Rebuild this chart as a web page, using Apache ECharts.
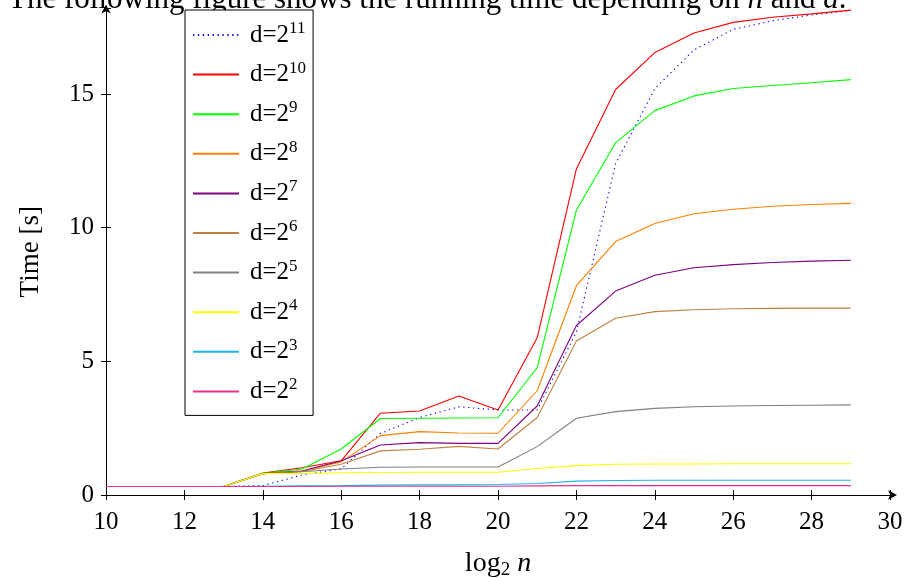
<!DOCTYPE html>
<html>
<head>
<meta charset="utf-8">
<script src="https://cdn.jsdelivr.net/npm/echarts@6/dist/echarts.min.js"></script>
<style>
html,body{margin:0;padding:0;background:#fff;}
#chart{width:910px;height:578px;}
</style>
</head>
<body>
<div id="chart"></div>
<script>
// ---- data ----
const logN = [10,11,12,13,14,15,16,17,18,19,20,21,22,23,24,25,26,27,28,29];
const exps = ['11','10','9','8','7','6','5','4','3','2'];
const d11 = [0.32,0.32,0.32,0.32,0.35,0.75,0.98,2.30,2.90,3.30,3.18,3.18,6.10,12.40,15.20,16.65,17.42,17.74,17.96,18.12];
const d10 = [0.32,0.32,0.32,0.32,0.82,1.02,1.28,3.06,3.14,3.70,3.18,5.88,12.20,15.17,16.55,17.28,17.68,17.87,18.00,18.14];
const d9  = [0.32,0.32,0.32,0.32,0.81,0.97,1.72,2.86,2.87,2.88,2.89,4.76,10.66,13.18,14.38,14.93,15.21,15.32,15.42,15.54];
const d8  = [0.32,0.32,0.32,0.32,0.80,0.90,1.24,2.22,2.37,2.32,2.31,3.90,7.83,9.48,10.16,10.52,10.69,10.80,10.87,10.91];
const d7  = [0.32,0.32,0.32,0.32,0.80,0.90,1.28,1.87,1.96,1.93,1.93,3.33,6.34,7.63,8.22,8.50,8.62,8.70,8.75,8.78];
const d6  = [0.32,0.32,0.32,0.32,0.80,0.88,1.15,1.65,1.71,1.82,1.72,2.90,5.76,6.61,6.86,6.93,6.97,6.98,6.99,6.99];
const d5  = [0.32,0.32,0.32,0.32,0.80,0.87,0.97,1.04,1.05,1.05,1.05,1.81,2.87,3.12,3.24,3.30,3.33,3.35,3.36,3.37];
const d4  = [0.32,0.32,0.32,0.32,0.80,0.80,0.83,0.84,0.85,0.85,0.85,0.99,1.10,1.15,1.16,1.16,1.17,1.17,1.17,1.17];
const d3  = [0.32,0.32,0.32,0.32,0.33,0.34,0.35,0.37,0.38,0.38,0.39,0.43,0.52,0.54,0.55,0.55,0.55,0.55,0.55,0.55];
const d2  = [0.32,0.32,0.32,0.32,0.32,0.32,0.33,0.33,0.33,0.33,0.33,0.34,0.35,0.35,0.35,0.35,0.35,0.35,0.35,0.35];
const xTicks = [10,12,14,16,18,20,22,24,26,28,30];
const yTicks = [0,5,10,15];

const seriesData = [d11,d10,d9,d8,d7,d6,d5,d4,d3,d2];
const colors = ['#0000FF','#FF0000','#00FF00','#FF8000','#800080','#BF8040','#808080','#FFFF00','#1EB4F0','#E8308C'];
const types  = [[1.3,3.6],'solid','solid','solid','solid','solid','solid','solid','solid','solid'];

const FONT = 'Liberation Serif';
const chart = echarts.init(document.getElementById('chart'), null, {renderer:'canvas'});

const series = seriesData.map((arr,i)=>({
  name: 'd=2^' + exps[i],
  type: 'line',
  symbol: 'none',
  clip: false,
  animation: false,
  data: arr.map((v,j)=>[logN[j], v]),
  lineStyle: {color: colors[i], width: 1.1, type: types[i]},
  itemStyle: {color: colors[i]},
  xAxisIndex: 0, yAxisIndex: 0
}));

const axisCommonX = {
  type:'value', min: xTicks[0], max: xTicks[xTicks.length-1], interval: 2
};
const axisCommonY = {
  type:'value', min: yTicks[0], max: 18.2, interval: 5
};

chart.setOption({
  animation:false,
  backgroundColor:'#fff',
  textStyle:{fontFamily:FONT},
  grid:{left:106, right:20, top:8.5, bottom:83, containLabel:false, outerBoundsMode:'none'},
  graphic:[{
    type:'text', left: 8, top: -16,
    style:{
      text:'The following figure shows the running time depending on {i|n} and {i|d}.',
      font: '31px "' + FONT + '"', fill:'#000',
      rich:{i:{fontStyle:'italic', fontSize:31, fontFamily:FONT}}
    }
  }],
  legend:{
    orient:'vertical', left:185, top:10,
    backgroundColor:'#fff', borderColor:'#000', borderWidth:1,
    padding:[10,7,9,7],
    itemWidth:46, itemHeight:14, itemGap:9.6,
    itemStyle:{opacity:0},
    data: series.map(s=>s.name),
    formatter: name => 'd=2{s|' + name.split('^')[1] + '}',
    textStyle:{fontFamily:FONT, fontSize:25, color:'#000', lineHeight:30, padding:[0,0,0,6],
      rich:{s:{fontFamily:FONT, fontSize:17, verticalAlign:'top', lineHeight:17, padding:[0,0,10,0]}}}
  },
  xAxis:[
    Object.assign({}, axisCommonX, {
      position:'bottom',
      name:'log{sub|2} {it|n}', nameLocation:'middle', nameGap:52,
      nameTextStyle:{fontFamily:FONT, fontSize:28, color:'#000',
        rich:{sub:{fontFamily:FONT, fontSize:19, padding:[14,0,0,0]}, it:{fontFamily:FONT, fontSize:28, fontStyle:'italic'}}},
      axisLine:{show:true, onZero:false, lineStyle:{color:'#000', width:1}, symbol:['none','arrow'], symbolSize:[7,9], symbolOffset:[0,7]},
      axisTick:{show:true, inside:false, length:5, lineStyle:{color:'#000', width:1}},
      axisLabel:{show:true, margin:15, fontFamily:FONT, fontSize:25, color:'#000'},
      splitLine:{show:false}
    }),
    Object.assign({}, axisCommonX, {
      position:'bottom', gridIndex:0,
      axisLine:{show:false},
      axisTick:{show:true, inside:true, length:5, lineStyle:{color:'#000', width:1}},
      axisLabel:{show:false}, splitLine:{show:false}
    })
  ],
  yAxis:[
    Object.assign({}, axisCommonY, {
      position:'left',
      name:'Time [s]', nameLocation:'middle', nameGap:62, nameRotate:90,
      nameTextStyle:{fontFamily:FONT, fontSize:27, color:'#000'},
      axisLine:{show:true, onZero:false, lineStyle:{color:'#000', width:1}, symbol:['none','arrow'], symbolSize:[7,9], symbolOffset:[0,4]},
      axisTick:{show:true, inside:false, length:5, lineStyle:{color:'#000', width:1}},
      axisLabel:{show:true, margin:12, fontFamily:FONT, fontSize:25, color:'#000', showMaxLabel:false},
      splitLine:{show:false}
    }),
    Object.assign({}, axisCommonY, {
      position:'left', gridIndex:0,
      axisLine:{show:false},
      axisTick:{show:true, inside:true, length:5, lineStyle:{color:'#000', width:1}},
      axisLabel:{show:false}, splitLine:{show:false}
    })
  ],
  series: series
});
</script>
</body>
</html>
